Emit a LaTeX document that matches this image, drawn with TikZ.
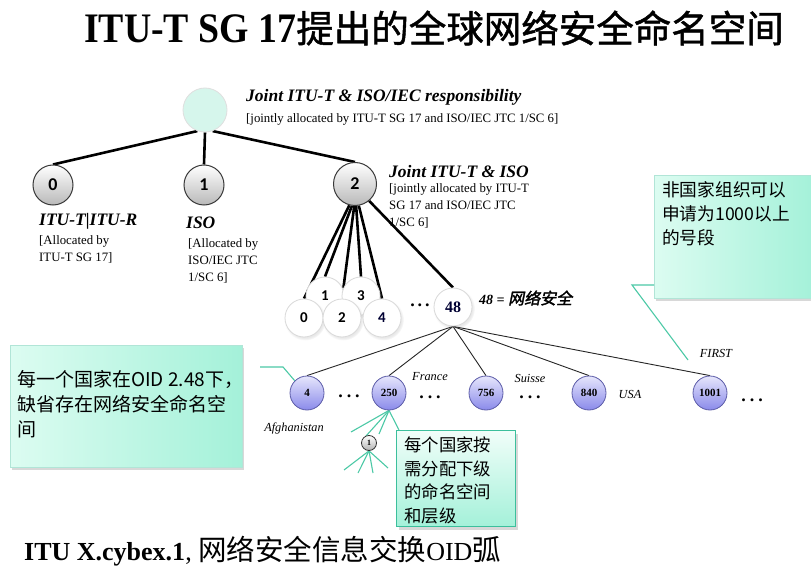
\documentclass[tikz,border=0pt]{standalone}
\usepackage{fontspec}
\setmainfont{Liberation Serif}
\newfontfamily\cjk{Noto Sans CJK SC}
\newfontfamily\cjkbi{Noto Sans CJK SC}[FakeSlant=0.2,FakeBold=2]
\newfontfamily\cjkbold{Noto Sans CJK SC}[FakeBold=1.2]
\newfontfamily\titlelat{Liberation Serif}[FakeStretch=0.9]
\newfontfamily\numfont{Carlito}
\usetikzlibrary{shadows}
\definecolor{mint}{HTML}{D6F6EC}
\definecolor{tealc}{HTML}{4CC9A6}
\definecolor{tealb}{HTML}{3CBF9C}
\definecolor{boxl}{HTML}{DCFCF1}
\definecolor{boxr}{HTML}{A4F1D9}
\definecolor{bluetop}{HTML}{E6E6FC}
\definecolor{bluebot}{HTML}{8A8AEA}
\definecolor{blueedge}{HTML}{5C5CA8}
\pgfdeclarelayer{bg}
\pgfdeclarelayer{lines}
\pgfsetlayers{bg,lines,main}
\tikzset{
  graynode/.style={circle, draw=gray!45!black, line width=1pt, top color=white, bottom color=gray!55, minimum size=40pt, inner sep=0pt, font=\numfont\bfseries\fontsize{18}{18}\selectfont},
  whitenode/.style={circle, draw=gray!30, line width=0.8pt, fill=white, circular drop shadow={opacity=0.18, shadow xshift=1pt, shadow yshift=-1.5pt}, minimum size=38pt, inner sep=0pt, font=\numfont\bfseries\fontsize{15}{15}\selectfont},
  bluenode/.style={circle, draw=blueedge, line width=0.8pt, top color=bluetop, bottom color=bluebot, minimum size=34pt, inner sep=0pt, font=\bfseries\fontsize{11}{11}\selectfont},
  thickline/.style={line width=2.6pt, black},
  thinline/.style={line width=0.9pt, black!85},
  tealline/.style={line width=1.1pt, tealc},
  bilabel/.style={font=\bfseries\itshape\fontsize{17.5}{19}\selectfont, anchor=west, inner sep=0pt},
  smalllabel/.style={font=\fontsize{12.8}{17}\selectfont, anchor=north west, align=left, inner sep=0pt},
  country/.style={font=\itshape\fontsize{12.3}{13}\selectfont, inner sep=0pt},
  dots/.style={font=\bfseries\fontsize{18}{18}\selectfont, inner sep=0pt},
  callout/.style={draw=tealb!40, line width=0.5pt, left color=boxl, right color=boxr, drop shadow={opacity=0.3, shadow xshift=2pt, shadow yshift=-3pt}},
  callouttext/.style={font=\cjk\fontsize{17.7}{24}\selectfont, align=left, inner sep=0pt, anchor=north west}
}
\begin{document}
\begin{tikzpicture}[x=1pt,y=-1pt]
\useasboundingbox (0,0) rectangle (811,572);
\begin{pgfonlayer}{bg}
\fill[white] (0,0) rectangle (811,572);
\end{pgfonlayer}

% title
\node[inner sep=0pt] (title) at (434,28) {{\titlelat\bfseries\fontsize{42}{42}\selectfont ITU-T SG 17}{\cjkbold\fontsize{37.5}{39}\selectfont 提出的全球网络安全命名空间}};

% root
\node[circle, draw=gray!25, line width=0.8pt, fill=mint, minimum size=44pt] (root) at (205,110) {};
\node[bilabel] (lroot) at (246,97) {Joint ITU-T \& ISO/IEC responsibility};
\node[smalllabel, anchor=west] (lroot2) at (246,119) {[jointly allocated by ITU-T SG 17 and ISO/IEC JTC 1/SC 6]};

% level 1
\node[graynode] (n0) at (53,185) {0};
\node[graynode] (n1) at (204,185) {1};
\node[graynode, minimum size=43pt] (n2) at (355,184) {2};
\node[bilabel] (l0) at (39,221) {ITU-T|ITU-R};
\node[smalllabel] (l0b) at (39,235) {[Allocated by\\ITU-T SG 17]};
\node[bilabel] (l1) at (186,223) {ISO};
\node[smalllabel] (l1b) at (188,238) {[Allocated by\\ISO/IEC JTC\\1/SC 6]};
\node[bilabel] (l2) at (389,172) {Joint ITU-T \& ISO};
\node[smalllabel] (l2b) at (389,183) {[jointly allocated by ITU-T\\SG 17 and ISO/IEC JTC\\1/SC 6]};

% level 2
\node[whitenode] (a1) at (325,296) {1};
\node[whitenode] (a3) at (361,296) {3};
\node[whitenode] (a0) at (304,318) {0};
\node[whitenode] (a2) at (342,318) {2};
\node[whitenode] (a4) at (382,318) {\textcolor{black!80!blue}{4}};
\node[whitenode, font=\bfseries\fontsize{16}{16}\selectfont] (a48) at (453,307) {\textcolor{black!80!blue}{48}};
\node[dots] (d1) at (420,305) {.\hspace{3pt}.\hspace{3pt}.};
\node[anchor=west, inner sep=0pt] (l48) at (479,298) {{\bfseries\itshape\fontsize{14}{14}\selectfont 48 = }{\cjkbi\fontsize{16}{16}\selectfont 网络安全}};

% level 3
\node[bluenode] (b4) at (307,393) {4};
\node[bluenode] (b250) at (389,393) {250};
\node[bluenode] (b756) at (486,393) {756};
\node[bluenode] (b840) at (589,393) {840};
\node[bluenode] (b1001) at (710,393) {1001};
\node[dots] (d2) at (349,396) {.\hspace{4pt}.\hspace{4pt}.};
\node[dots] (d3) at (430,397) {.\hspace{4pt}.\hspace{4pt}.};
\node[dots] (d4) at (530,397) {.\hspace{4pt}.\hspace{4pt}.};
\node[dots] (d5) at (752,400) {.\hspace{4pt}.\hspace{4pt}.};
\node[country] (cAf) at (294,428) {Afghanistan};
\node[country] (cFr) at (430,377) {France};
\node[country] (cSu) at (530,378) {Suisse};
\node[country] (cUS) at (630,394) {USA};
\node[country] (cFI) at (716,353) {FIRST};

% small node
\node[circle, draw=gray!40!black, line width=0.8pt, top color=white, bottom color=gray!60, minimum size=15pt, inner sep=0pt, font=\bfseries\fontsize{8}{8}\selectfont] (s1) at (369,443) {1};

% lines
\begin{pgfonlayer}{lines}
\draw[thickline] (root.250) -- (n0.north);
\draw[thickline] (root.south) -- (n1.north);
\draw[thickline] (root.290) -- (n2.north);
\draw[thickline] (n2.255) -- (a0.north);
\draw[thickline] (n2.262) -- (a1.north);
\draw[thickline] (n2.268) -- (a2.north);
\draw[thickline] (n2.273) -- (a3.north);
\draw[thickline] (n2.280) -- (a4.north);
\draw[thickline] (n2.310) -- (a48.north);
\foreach \t in {b4,b250,b756,b840,b1001}{\draw[thinline] (a48.south) -- (\t.north);}
\coordinate (u1) at (351,432);
\coordinate (u2) at (366,436);
\coordinate (u3) at (379,434);
\coordinate (u4) at (399,430);
\coordinate (v1) at (344,470);
\coordinate (v2) at (358,473);
\coordinate (v3) at (373,473);
\coordinate (v4) at (388,468);
\foreach \p in {u1,u2,u3,u4}{\draw[tealline] (b250.south) -- (\p);}
\foreach \p in {v1,v2,v3,v4}{\draw[tealline] (s1.south) -- (\p);}
\end{pgfonlayer}

% callouts
\node[callout, minimum width=232pt, minimum height=122pt, anchor=north west] (cb1) at (10,345) {};
\node[callouttext, font=\cjk\fontsize{19}{25}\selectfont] (cb1t) at (17,370) {每一个国家在OID 2.48下，\\缺省存在网络安全命名空\\间};
\coordinate (p1) at (260,367);
\coordinate (p1b) at (283,367);
\draw[tealline] (p1) -- (p1b) -- (b4.north west);

\node[callout, minimum width=160pt, minimum height=123pt, anchor=north west] (cb2) at (654,175) {};
\node[callouttext] (cb2t) at (662,181) {非国家组织可以\\申请为1000以上\\的号段};
\coordinate (p2a) at (654,285);
\coordinate (p2b) at (632,285);
\coordinate (p2c) at (688,360);
\draw[tealline] (p2a) -- (p2b) -- (p2c);

\node[draw=tealb, line width=1pt, top color=white!60!boxl, bottom color=boxr, drop shadow={opacity=0.3, shadow xshift=2pt, shadow yshift=-3pt}, minimum width=119pt, minimum height=96pt, anchor=north west] (cb3) at (396,430) {};
\node[callouttext, font=\cjk\fontsize{17.4}{23.5}\selectfont] (cb3t) at (404,437) {每个国家按\\需分配下级\\的命名空间\\和层级};

% bottom caption
\node[anchor=west, inner sep=0pt] (cap) at (24,551) {{\bfseries\fontsize{26}{26}\selectfont ITU X.cybex.1}{\fontsize{26}{26}\selectfont , }{\cjk\fontsize{28.5}{28.5}\selectfont 网络安全信息交换}{\fontsize{26}{26}\selectfont OID}{\cjk\fontsize{28.5}{28.5}\selectfont 弧}};
\end{tikzpicture}
\end{document}
